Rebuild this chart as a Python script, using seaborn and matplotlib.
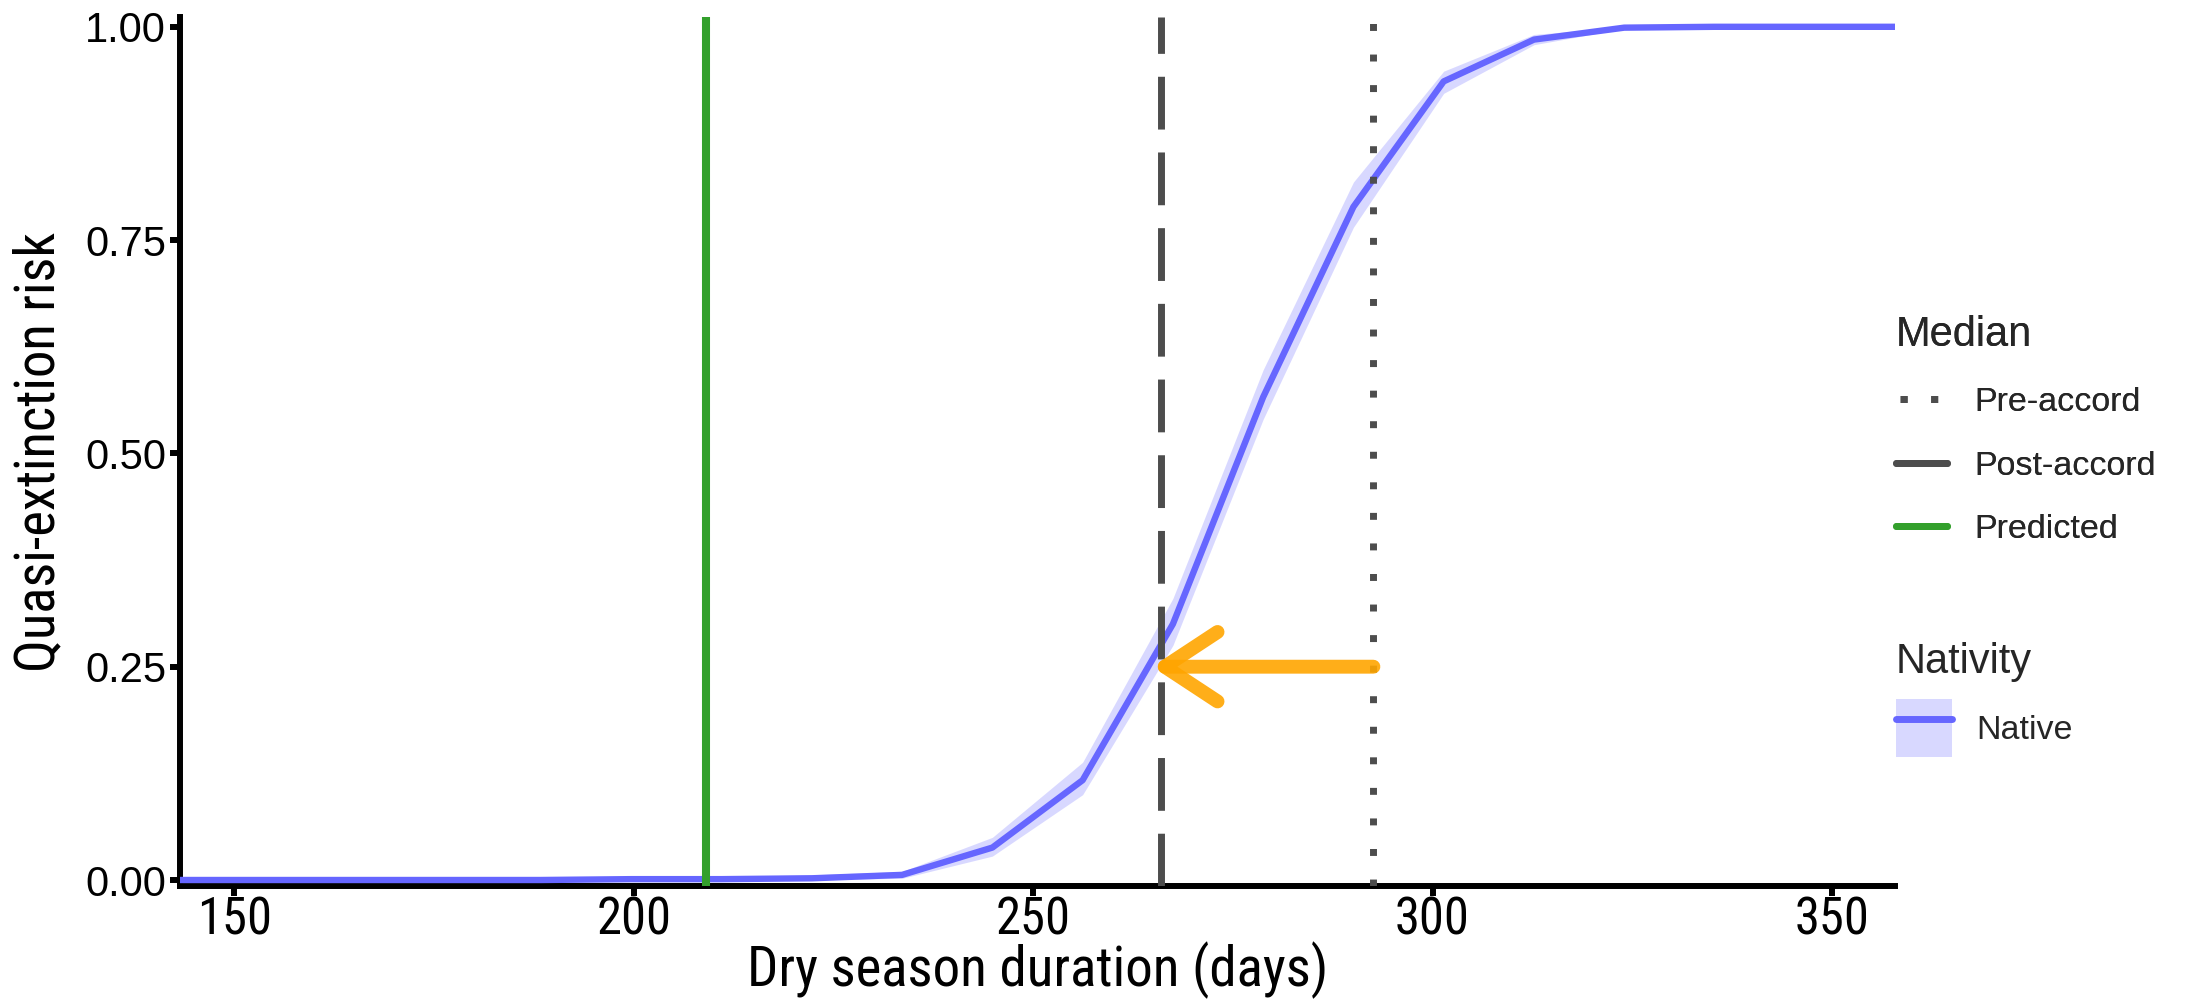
import matplotlib
matplotlib.use("Agg")
import matplotlib.pyplot as plt
import seaborn as sns
import numpy as np
import pandas as pd
from matplotlib.lines import Line2D
from matplotlib.patches import Patch
from matplotlib import font_manager
from matplotlib.font_manager import FontProperties

# curve
days = [143.2, 154.5, 165.8, 177.1, 188.4, 199.7, 211.0, 222.3, 233.6, 244.9,
        256.2, 267.5, 278.8, 290.1, 301.4, 312.7, 324.0, 335.3, 346.6, 357.9]
risk = [0.0, 0.0, 0.0, 0.0, 0.0, 0.001, 0.001, 0.002, 0.006, 0.038,
        0.117, 0.300, 0.566, 0.789, 0.936, 0.985, 0.999, 1.0, 1.0, 1.0]
risk_lo = [0.0, 0.0, 0.0, 0.0, 0.0, 0.0, 0.0, 0.0, 0.002, 0.028,
           0.100, 0.275, 0.540, 0.765, 0.922, 0.979, 0.998, 1.0, 1.0, 1.0]
risk_hi = [0.0, 0.0, 0.0, 0.0, 0.0, 0.004, 0.004, 0.006, 0.010, 0.050,
           0.138, 0.330, 0.598, 0.818, 0.948, 0.991, 1.0, 1.0, 1.0, 1.0]

pre_accord = 292.6
post_accord = 266.0
predicted = 209.0
arrow_risk = 0.25

median_labels = ["Pre-accord", "Post-accord", "Predicted"]
nativity_labels = ["Native"]

blue = "#6666FF"
grey = "#4D4D4D"
green = "#33A02C"

sns.set_theme(style="white")
plt.rcParams['font.family'] = ['Liberation Sans', 'DejaVu Sans']


# look for a narrow sans face for the axis titles / x ticks
def find_narrow():
    prefs = ["Liberation Sans Narrow", "Roboto Condensed", "Noto Sans", "Open Sans",
             "Roboto", "DejaVu Sans"]
    found = {}
    for f in font_manager.fontManager.ttflist:
        fn = f.fname.lower()
        if "mono" in fn or "serif" in fn or "italic" in fn or "oblique" in fn:
            continue
        if f.weight not in (400, "normal", "regular", "book"):
            continue
        if f.style != "normal":
            continue
        narrowish = ("narrow" in fn or "condensed" in fn or "semicondensed" in fn
                     or f.stretch in ("condensed", "semi-condensed"))
        if not narrowish or "extra" in fn or "ultra" in fn:
            continue
        found.setdefault(f.name, f.fname)
    for p in prefs:
        if p in found:
            return FontProperties(fname=found[p])
    if found:
        return FontProperties(fname=list(found.values())[0])
    return FontProperties(family="Liberation Sans")


narrow_fp = find_narrow()

W, H = 2190, 1002
fig = plt.figure(figsize=(W / 100, H / 100), dpi=100)
x0, x1, ytop, ybot = 180, 1895, 17, 886
ax = fig.add_axes([x0 / W, 1 - ybot / H, (x1 - x0) / W, (ybot - ytop) / H])

df = pd.DataFrame({"days": days, "risk": risk, "Nativity": "Native"})
ax.fill_between(days, risk_lo, risk_hi, color=blue, alpha=0.25, lw=0, zorder=2)
sns.lineplot(data=df, x="days", y="risk", color=blue, lw=4.6, ax=ax, legend=False, zorder=3)

ax.axvline(pre_accord, color=grey, lw=5, ls=(0, (1, 3.4)), dash_capstyle="butt", zorder=4)
ax.axvline(post_accord, color=grey, lw=5, ls=(0, (7.6, 3.3)), dash_capstyle="butt", zorder=4)
ax.axvline(predicted, color=green, lw=5.8, zorder=4)

ax.annotate("", xy=(post_accord - 1.1, arrow_risk), xytext=(pre_accord, arrow_risk),
            arrowprops=dict(arrowstyle="->,head_length=38,head_width=25", lw=10,
                            color="orange", alpha=0.9, shrinkA=0, shrinkB=0,
                            mutation_scale=1, joinstyle="round"), zorder=5)

ax.set_xlim(143.2, 357.9)
ax.set_ylim((880 - ybot) / 853.2, 1 + (26.8 - ytop) / 853.2)
ax.set_xticks([150, 200, 250, 300, 350])
ax.set_yticks([0, 0.25, 0.5, 0.75, 1.0])
ax.set_yticklabels(["0.00", "0.25", "0.50", "0.75", "1.00"])
for s in ["top", "right"]:
    ax.spines[s].set_visible(False)
for s in ["left", "bottom"]:
    ax.spines[s].set_color("black")
    ax.spines[s].set_linewidth(4.3)
ax.tick_params(axis="both", direction="out", length=7, width=4.3, color="black",
               left=True, bottom=True)
ax.tick_params(axis="y", labelsize=30, pad=3, labelcolor="black")
ax.tick_params(axis="x", pad=0, labelcolor="black")

xl = ax.set_xlabel("Dry season duration (days)", color="black")
yl = ax.set_ylabel("Quasi-extinction risk", color="black")


# size the narrow texts so they take the width they take in the picture
def fit_size(text, target_px, max_pt):
    probe = fig.text(0, 0, text, fontproperties=narrow_fp, size=40)
    ext = probe.get_window_extent(fig.canvas.get_renderer())
    probe.remove()
    return min(max_pt, 40 * target_px / ext.width)


xl_size = fit_size("Dry season duration (days)", 582, 42.5)
yl_size = fit_size("Quasi-extinction risk", 441, 42.5)
xt_size = fit_size("150", 75, 40)
for lab, sz in ((xl, xl_size), (yl, yl_size)):
    fp = narrow_fp.copy()
    fp.set_size(sz)
    lab.set_fontproperties(fp)
for t in ax.get_xticklabels():
    fp = narrow_fp.copy()
    fp.set_size(xt_size)
    t.set_fontproperties(fp)
ax.xaxis.set_label_coords(0.5, -0.064)
ax.yaxis.set_label_coords(-0.067, 0.5)

# legends
h_median = [Line2D([], [], color=grey, lw=5, ls=(3.8, (1, 3.4)), dash_capstyle="butt"),
            Line2D([], [], color=grey, lw=5),
            Line2D([], [], color=green, lw=5)]
leg1 = fig.legend(h_median, median_labels, title="Median", loc="upper left",
                  bbox_to_anchor=(1896 / W, 1 - 315 / H), frameon=False,
                  fontsize=24.5, title_fontsize=30, handlelength=1.5,
                  handletextpad=0.8, labelspacing=0.95, borderpad=0, borderaxespad=0,
                  alignment="left")
h_native = [(Patch(facecolor=blue, alpha=0.25, lw=0), Line2D([], [], color=blue, lw=5))]
leg2 = fig.legend(h_native, nativity_labels, title="Nativity", loc="upper left",
                  bbox_to_anchor=(1896 / W, 1 - 642 / H), frameon=False,
                  fontsize=24.5, title_fontsize=30, handlelength=1.65, handleheight=2.25,
                  handletextpad=0.7, borderpad=0, borderaxespad=0, alignment="left")
fig.add_artist(leg1)

fig.savefig("out.png", dpi=100)
